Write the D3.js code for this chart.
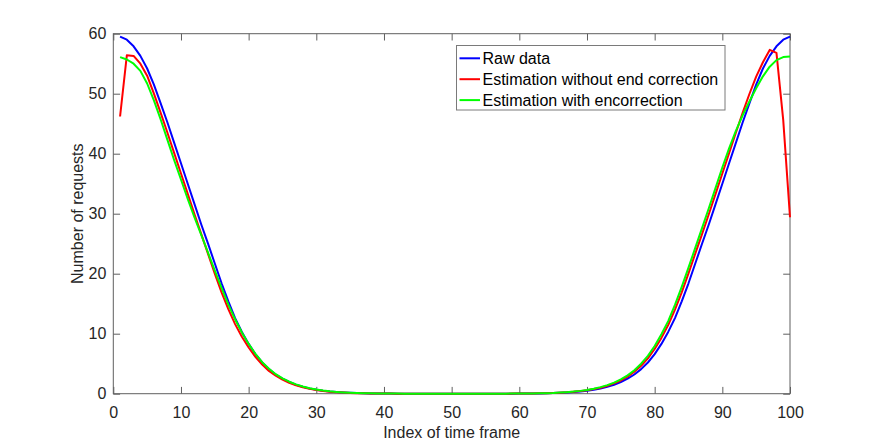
<!DOCTYPE html>
<html>
<head>
<meta charset="utf-8">
<script src="https://cdn.jsdelivr.net/npm/d3@7"></script>
<style>
  body { margin: 0; background: #fff; }
  svg { display: block; font-family: "Liberation Sans", Arial, sans-serif; }
  .tick text { fill: #262626; font-size: 16px; }
</style>
</head>
<body>
<div id="chart"></div>
<script>
// Courbes : x = 1..100
const frameIndex = d3.range(1, 101);

const rawData = [
  59.5, 59.0, 57.9, 56.3, 54.2, 51.5, 48.4, 45.2, 41.8, 38.4,
  35.0, 31.6, 28.2, 25.0, 21.7, 18.4, 15.4, 12.6, 10.3, 8.3,
  6.6, 5.2, 4.1, 3.2, 2.5, 1.95, 1.5, 1.15, 0.88, 0.67,
  0.5, 0.37, 0.27, 0.2, 0.14, 0.1, 0.07, 0.05, 0.035, 0.025,
  0.017, 0.012, 0.008, 0.005, 0.003, 0.002, 0.001, 0, 0, 0,
  0, 0, 0, 0.001, 0.002, 0.003, 0.005, 0.008, 0.012, 0.017,
  0.025, 0.035, 0.05, 0.07, 0.1, 0.14, 0.2, 0.27, 0.37, 0.5,
  0.67, 0.88, 1.15, 1.5, 1.95, 2.5, 3.2, 4.1, 5.2, 6.6,
  8.3, 10.3, 12.6, 15.4, 18.4, 21.7, 25.0, 28.2, 31.6, 35.0,
  38.4, 41.8, 45.2, 48.4, 51.5, 54.2, 56.3, 57.9, 59.0, 59.5
];

const estNoEndCorr = [
  46.2, 56.4, 56.3, 55.0, 53.0, 50.0, 46.8, 43.5, 40.1, 36.7,
  33.3, 29.9, 26.6, 23.3, 20.0, 16.9, 14.1, 11.6, 9.5, 7.7,
  6.15, 4.85, 3.8, 3.0, 2.35, 1.8, 1.4, 1.07, 0.81, 0.62,
  0.46, 0.34, 0.25, 0.18, 0.13, 0.09, 0.065, 0.045, 0.03, 0.02,
  0.014, 0.01, 0.007, 0.004, 0.002, 0.001, 0, 0, 0, 0,
  0, 0, 0, 0.001, 0.002, 0.004, 0.006, 0.01, 0.014, 0.021,
  0.03, 0.042, 0.06, 0.085, 0.12, 0.17, 0.23, 0.32, 0.43, 0.58,
  0.77, 1.0, 1.32, 1.72, 2.2, 2.85, 3.65, 4.65, 5.9, 7.45,
  9.3, 11.45, 14.0, 16.9, 20.05, 23.35, 26.6, 29.9, 33.3, 36.7,
  40.1, 43.5, 46.8, 49.95, 52.85, 55.25, 57.3, 56.8, 45.6, 29.4
];

const estEndCorr = [
  56.1, 55.7, 55.0, 53.8, 51.7, 48.9, 45.7, 42.3, 38.9, 35.7,
  32.45, 29.4, 26.45, 23.5, 20.5, 17.65, 14.85, 12.4, 10.2, 8.3,
  6.65, 5.25, 4.15, 3.25, 2.55, 2.0, 1.55, 1.2, 0.92, 0.7,
  0.53, 0.39, 0.29, 0.21, 0.15, 0.11, 0.08, 0.055, 0.04, 0.028,
  0.02, 0.014, 0.01, 0.006, 0.004, 0.002, 0.001, 0, 0, 0,
  0, 0, 0.001, 0.002, 0.003, 0.005, 0.008, 0.012, 0.017, 0.024,
  0.034, 0.048, 0.068, 0.095, 0.13, 0.19, 0.26, 0.35, 0.47, 0.63,
  0.84, 1.1, 1.43, 1.85, 2.4, 3.05, 3.9, 5.0, 6.3, 7.95,
  9.9, 12.1, 14.8, 17.8, 21.0, 24.3, 27.6, 30.9, 34.3, 37.7,
  40.9, 43.8, 46.4, 48.7, 50.9, 52.9, 54.5, 55.6, 56.1, 56.2
];

const seriesNames  = ["Raw data", "Estimation without end correction", "Estimation with encorrection"];
const seriesColors = ["#0000ff", "#ff0000", "#00ff00"];
const xTicks = [0, 10, 20, 30, 40, 50, 60, 70, 80, 90, 100];
const yTicks = [0, 10, 20, 30, 40, 50, 60];

const width = 872;
const height = 442;
const margin = { top: 33.7, right: 82, bottom: 48.3, left: 113.3 };
const tickLen = 6.8;
const axisColor = "#5f5f5f";

const svg = d3.select("#chart")
  .append("svg")
  .attr("width", width)
  .attr("height", height);

const x = d3.scaleLinear()
  .domain([0, 100])
  .range([margin.left, width - margin.right]);

const y = d3.scaleLinear()
  .domain([0, 60])
  .range([height - margin.bottom, margin.top]);

// Axes (ticks vers l'intérieur, style MATLAB)
function styleAxis(g) {
  g.select(".domain").remove();
  g.selectAll(".tick line").attr("stroke", axisColor);
}

svg.append("g")
  .attr("transform", `translate(0,${y(0)})`)
  .call(d3.axisBottom(x).tickValues(xTicks).tickSize(-tickLen).tickPadding(12.5))
  .call(styleAxis)
  .selectAll("text").attr("dy", "0.71em");

svg.append("g")
  .attr("transform", `translate(0,${y(60)})`)
  .call(d3.axisTop(x).tickValues(xTicks).tickSize(-tickLen).tickFormat(""))
  .call(styleAxis);

svg.append("g")
  .attr("transform", `translate(${x(0)},0)`)
  .call(d3.axisLeft(y).tickValues(yTicks).tickSize(-tickLen).tickPadding(7))
  .call(styleAxis);

svg.append("g")
  .attr("transform", `translate(${x(100)},0)`)
  .call(d3.axisRight(y).tickValues(yTicks).tickSize(-tickLen).tickFormat(""))
  .call(styleAxis);

// Cadre
svg.append("rect")
  .attr("x", x(0))
  .attr("y", y(60))
  .attr("width", x(100) - x(0))
  .attr("height", y(0) - y(60))
  .attr("fill", "none")
  .attr("stroke", axisColor)
  .attr("stroke-width", 1);

// Courbes
const allSeries = [rawData, estNoEndCorr, estEndCorr];
const line = d3.line()
  .x((d, i) => x(frameIndex[i]))
  .y(d => y(d));

allSeries.forEach((values, k) => {
  svg.append("path")
    .datum(values)
    .attr("fill", "none")
    .attr("stroke", seriesColors[k])
    .attr("stroke-width", 2)
    .attr("stroke-linejoin", "round")
    .attr("d", line);
});

// Titres des axes
svg.append("text")
  .attr("x", (x(0) + x(100)) / 2)
  .attr("y", 438)
  .attr("text-anchor", "middle")
  .style("font-size", "16px")
  .style("fill", "#262626")
  .text("Index of time frame");

svg.append("text")
  .attr("transform", `translate(83,${(y(0) + y(60)) / 2}) rotate(-90)`)
  .attr("text-anchor", "middle")
  .style("font-size", "16px")
  .style("fill", "#262626")
  .text("Number of requests");

// Légende
const legend = svg.append("g");
legend.append("rect")
  .attr("x", 456.5)
  .attr("y", 45.5)
  .attr("width", 268.5)
  .attr("height", 64.5)
  .attr("fill", "#fff")
  .attr("stroke", "#7a7a7a")
  .attr("stroke-width", 1);

seriesNames.forEach((name, k) => {
  const cy = 58.3 + k * 20.9;
  legend.append("line")
    .attr("x1", 459.5)
    .attr("x2", 480)
    .attr("y1", cy)
    .attr("y2", cy)
    .attr("stroke", seriesColors[k])
    .attr("stroke-width", 2);
  legend.append("text")
    .attr("x", 482.5)
    .attr("y", cy)
    .attr("dy", "0.35em")
    .style("font-size", "16px")
    .style("fill", "#000")
    .text(name);
});
</script>
</body>
</html>
